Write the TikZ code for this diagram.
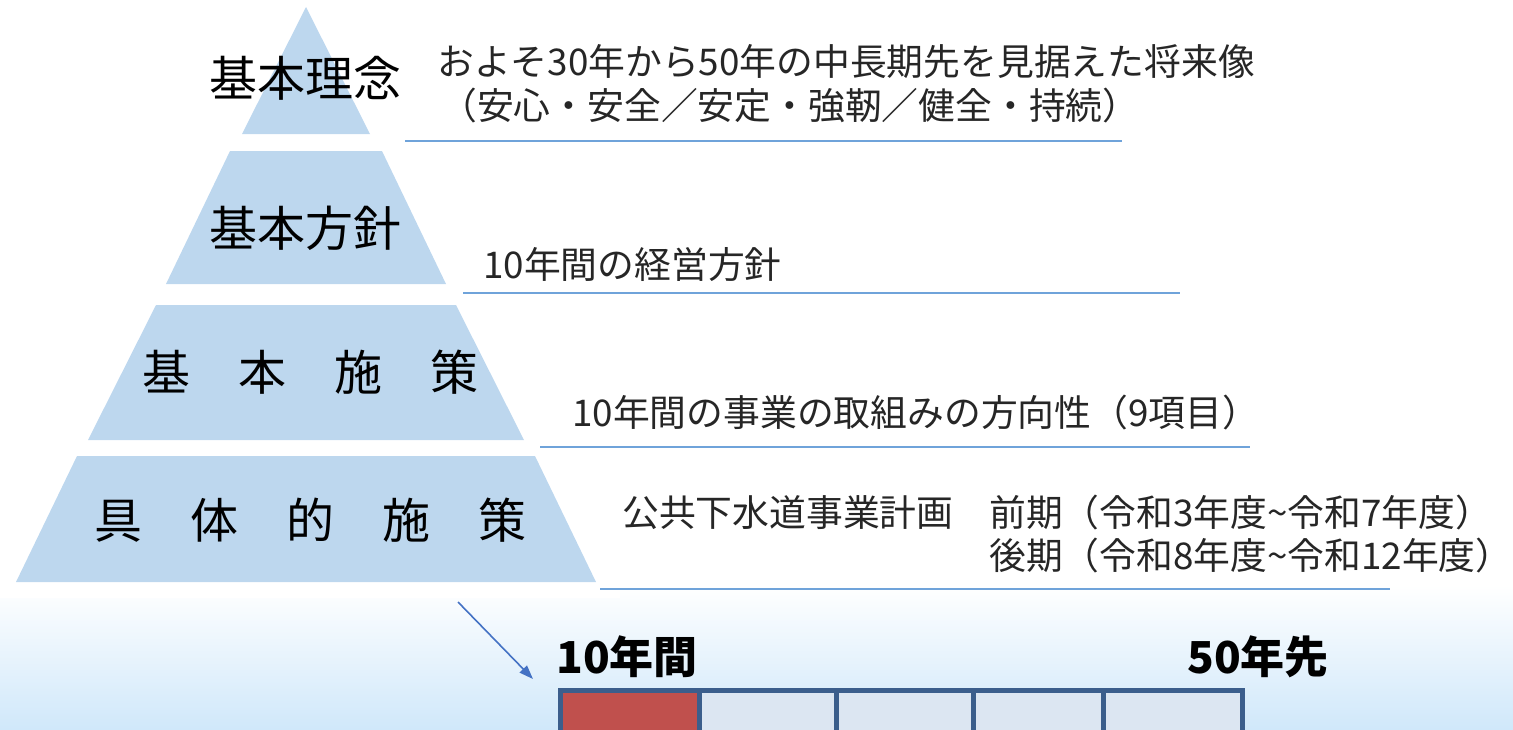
\documentclass[tikz,border=0pt]{standalone}
\usepackage{fontspec}
\setmainfont{Noto Sans CJK JP}
\newfontfamily\jp{Noto Sans CJK JP}
\usetikzlibrary{arrows.meta}
\definecolor{pyr}{HTML}{BDD7EE}
\definecolor{rule}{HTML}{6FA3DA}
\definecolor{txt}{HTML}{262626}
\definecolor{boxfill}{HTML}{DCE6F2}
\definecolor{boxred}{HTML}{C0504D}
\definecolor{boxline}{HTML}{3B5E8C}
\definecolor{arr}{HTML}{4472C4}
\definecolor{bgblue}{HTML}{D0E8FA}
\begin{document}
\begin{tikzpicture}[x=1pt,y=-1pt,
  level/.style={fill=pyr,draw=none},
  pyrlabel/.style={font=\jp\fontsize{48}{50}\selectfont,text=black,inner sep=0pt},
  desc/.style={font=\jp\fontsize{36.8}{40}\selectfont,text=txt,inner sep=0pt,anchor=west},
  rulestyle/.style={draw=rule,line width=1.6pt},
  bigbold/.style={font=\jp\bfseries\fontsize{44}{46}\selectfont,text=black,inner sep=0pt,anchor=west},
  cell/.style={draw=boxline,line width=5pt,fill=boxfill,minimum width=#1,minimum height=70pt,anchor=north west,inner sep=0pt},
]
\useasboundingbox (0,0) rectangle (1513,729);
\begin{scope}
\clip (0,0) rectangle (1513,729);
% background gradient
\shade[top color=white,bottom color=bgblue] (0,585) rectangle (1513,729);
\fill[white] (0,585) rectangle (620,598);

% pyramid levels
\fill[level] (306,7) -- (370,134) -- (242,134) -- cycle;
\fill[level] (230,151) -- (382,151) -- (446,284) -- (166,284) -- cycle;
\fill[level] (156,305) -- (456,305) -- (524,440) -- (88,440) -- cycle;
\fill[level] (77,456) -- (535,456) -- (596,582) -- (16,582) -- cycle;

% pyramid labels
\node[pyrlabel] (l1) at (305,78) {基本理念};
\node[pyrlabel] (l2) at (305,228) {基本方針};
\node[pyrlabel] (l3) at (310,372) {基　本　施　策};
\node[pyrlabel] (l4) at (310,520) {具　体　的　施　策};

% descriptions
\node[desc] (d1a) at (437,62) {およそ30年から50年の中長期先を見据えた将来像};
\node[desc] (d1b) at (440,106) {（安心・安全／安定・強靭／健全・持続）};
\node[desc] (d2) at (483,265) {10年間の経営方針};
\node[desc] (d3) at (572,413) {10年間の事業の取組みの方向性（9項目）};
\node[desc] (d4a) at (622,513) {公共下水道事業計画};
\node[desc] (d4b) at (989,513) {前期（令和3年度\string~令和7年度）};
\node[desc] (d4c) at (989,556) {後期（令和8年度\string~令和12年度）};

% rules
\coordinate (r1a) at (405,141); \coordinate (r1b) at (1122,141);
\coordinate (r2a) at (463,293); \coordinate (r2b) at (1180,293);
\coordinate (r3a) at (540,447); \coordinate (r3b) at (1250,447);
\coordinate (r4a) at (600,589); \coordinate (r4b) at (1390,589);
\draw[rulestyle] (r1a) -- (r1b);
\draw[rulestyle] (r2a) -- (r2b);
\draw[rulestyle] (r3a) -- (r3b);
\draw[rulestyle] (r4a) -- (r4b);

% timeline
\node[bigbold] (t10) at (556,657) {10年間};
\node[bigbold] (t50) at (1187,657) {50年先};
\node[cell=139pt,fill=boxred] (b1) at (558,688) {};
\node[cell=137pt] (b2) at (697,688) {};
\node[cell=137pt] (b3) at (834,688) {};
\node[cell=130pt] (b4) at (971,688) {};
\node[cell=139pt] (b5) at (1101,688) {};

% arrow
\coordinate (as) at (458,602);
\coordinate (ae) at (533,679);
\draw[arr,line width=1.6pt,-{Triangle[length=14pt,width=10pt]}] (as) -- (ae);
\end{scope}
\end{tikzpicture}
\end{document}
